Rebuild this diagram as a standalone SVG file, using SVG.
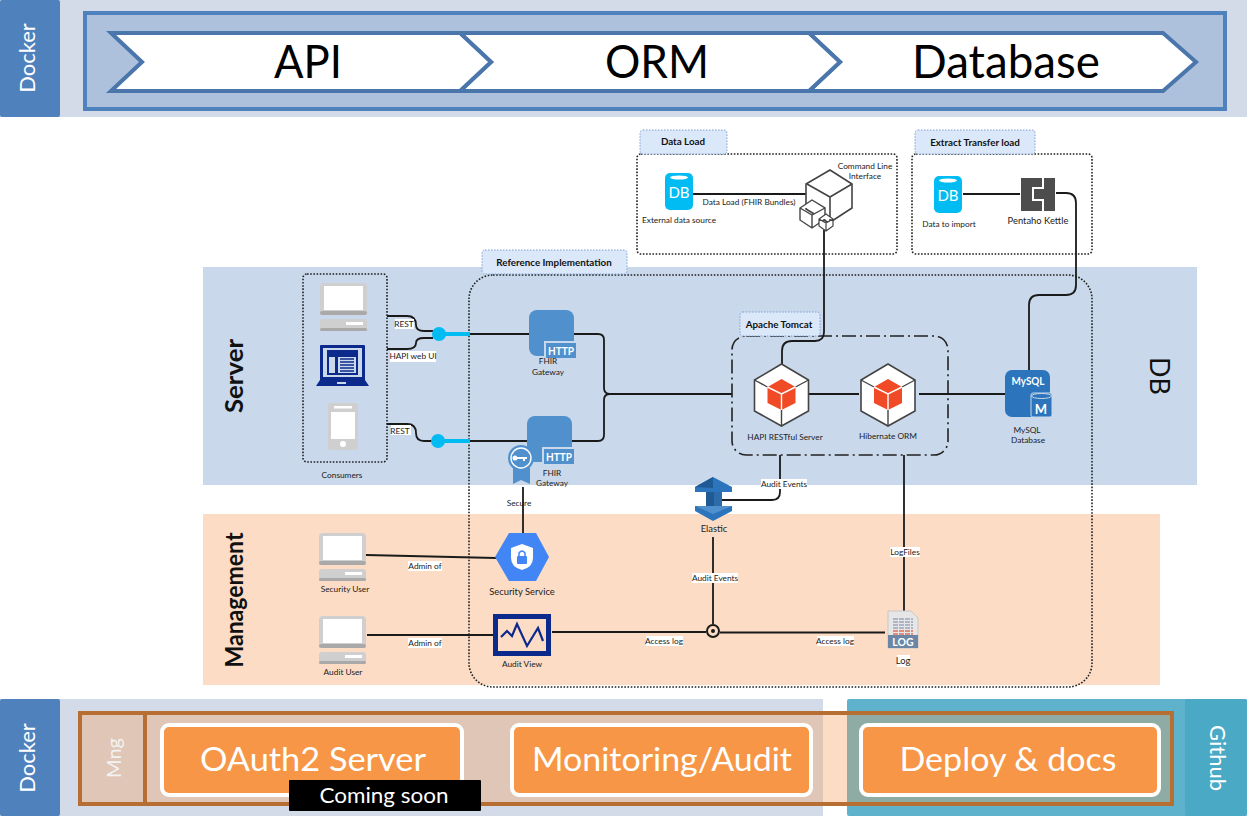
<svg xmlns="http://www.w3.org/2000/svg" width="1247" height="821" viewBox="0 0 1247 821">
<style>
text{font-family:"Lato","Liberation Sans",sans-serif;fill:#222}
.s{font-size:8.3px;text-anchor:middle}
.m{font-size:9.4px;text-anchor:middle}
.tab{font-size:9.8px;font-weight:700;text-anchor:middle;fill:#111}
.big{font-size:46px;text-anchor:middle;fill:#000}
.w{fill:#fff;text-anchor:middle;font-size:33px}
.side{fill:#fff;text-anchor:middle;font-size:22px}
.lane{font-size:25px;font-weight:700;text-anchor:middle;fill:#111}
.dot{fill:none;stroke:#222;stroke-width:1.6;stroke-dasharray:1.6 1.6}
.tabr{fill:#dbe8fa;stroke:#7f9fd0;stroke-width:1;stroke-dasharray:1.5 1.5}
.c{fill:none;stroke:#1a1a1a;stroke-width:1.8}
.lb{fill:#fff}
.chev{fill:#fff;stroke:#4a76ac;stroke-width:4}
.o{fill:#f79646;stroke:#fff;stroke-width:4}
</style>
<defs>
<g id="computer">
<rect x="0" y="0" width="47" height="32" rx="4" fill="#cfcfcf"/>
<rect x="0" y="28" width="47" height="4" rx="2" fill="#a9a9a9"/>
<rect x="4" y="3" width="39" height="24" fill="#fff"/>
<rect x="0" y="36" width="47" height="12" rx="3" fill="#cfcfcf"/>
<rect x="0" y="45" width="47" height="3" rx="1.5" fill="#a9a9a9"/>
<rect x="26" y="39" width="17" height="3" fill="#fff"/>
</g>
<g id="db">
<rect x="0" y="0" width="28" height="37" rx="5" fill="#00bcf2"/>
<ellipse cx="14" cy="4.500" rx="9" ry="2" fill="#fff"/>
<text x="14" y="25" style="font-size:15px;text-anchor:middle;fill:#fff">DB</text>
</g>
<g id="hexcube">
<path d="M0-31 27-15V16L0 31-27 16V-15Z" fill="#fff" stroke="#444" stroke-width="1.6"/>
<path d="M-27-15-14-8M27-15 14-8M0 15V31" stroke="#444" stroke-width="1.4" fill="none"/>
<path d="M0-16 14-8V8L0 15-14 8V-8Z" fill="#f04a26"/>
<path d="M-14-8 0-1 14-8M0-1V15" stroke="#fff" stroke-width="1.400" fill="none"/>
</g>
<g id="http">
<rect x="0" y="0" width="45" height="46" rx="8" fill="#4f90cd"/>
<rect x="15" y="31" width="32" height="17" fill="#c9d8eb"/>
<rect x="17" y="33" width="30" height="15" fill="#4f90cd"/>
<text x="32" y="45" style="font-size:12px;font-weight:700;fill:#fff;text-anchor:middle" textLength="26" lengthAdjust="spacingAndGlyphs">HTTP</text>
</g>
</defs>

<g id="top-band">
<rect width="1247" height="117" fill="#d3dbe9"/>
<rect width="60" height="117" rx="2" fill="#4f81bd"/>
<text class="side" transform="translate(35 58) rotate(-90)">Docker</text>
<rect x="85" y="13" width="1140" height="96" fill="#adc1dd" stroke="#4f81bd" stroke-width="4"/>
</g>
<g id="chevrons">
<path class="chev" d="M809 33H1163L1196 62 1163 91H809L840 62Z"/>
<path class="chev" d="M460 33H809L840 62 809 91H460L491 62Z"/>
<path class="chev" d="M111 33H460L491 62 460 91H111L142 62Z"/>
<text class="big" x="308" y="78" textLength="68" lengthAdjust="spacingAndGlyphs">API</text>
<text class="big" x="657" y="78" textLength="104" lengthAdjust="spacingAndGlyphs">ORM</text>
<text class="big" x="1006" y="78" textLength="188" lengthAdjust="spacingAndGlyphs">Database</text>
</g>

<g id="lanes">
<rect x="203" y="267" width="994" height="218" fill="#c9d8eb"/>
<rect x="203" y="514" width="957" height="171" fill="#fcdcc4"/>
<text class="lane" transform="translate(243 376) rotate(-90)" textLength="74" lengthAdjust="spacingAndGlyphs">Server</text>
<text class="lane" transform="translate(243 600) rotate(-90)" textLength="135" lengthAdjust="spacingAndGlyphs">Management</text>
<text transform="translate(1150 376) rotate(90)" style="font-size:27px;text-anchor:middle;fill:#111">DB</text>
</g>

<g id="containers">
<rect class="dot" x="637" y="154" width="260" height="100" rx="4"/>
<rect class="dot" x="912" y="154" width="180" height="100" rx="4"/>
<rect class="dot" x="469" y="275" width="623" height="412" rx="24"/>
<rect class="dot" x="303" y="274" width="84" height="188" rx="4"/>
<rect x="732" y="336" width="216" height="119" rx="14" fill="none" stroke="#222" stroke-width="1.6" stroke-dasharray="14 4 2 4"/>
</g>

<g id="connectors">
<path class="c" d="M693 194H806"/>
<path class="c" d="M963 194H1020"/>
<path class="c" d="M824 230V332Q824 341 815 341H792Q782 341 782 351V365"/>
<path class="c" d="M1056 193H1066Q1076 193 1076 203V285Q1076 295 1066 295H1039Q1029 295 1029 305V371"/>
<path class="c" d="M387 316H407Q416 316 416 325 416 331 424 331H433"/>
<path class="c" d="M387 349H407Q416 349 416 343 416 338 424 338H433"/>
<path class="c" d="M387 424H407Q416 424 416 433 416 441 424 441H433"/>
<path d="M439 334H470M438 441H470" stroke="#00bcf2" stroke-width="4" fill="none"/>
<circle cx="439" cy="334" r="7" fill="#00bcf2"/>
<circle cx="438" cy="441" r="7" fill="#00bcf2"/>
<path class="c" d="M470 334H530M470 441H528"/>
<path class="c" d="M573 334H598Q604 334 604 340V388Q604 394 610 394M572 441H598Q604 441 604 435V400Q604 394 610 394H732"/>
<path class="c" d="M809 394H859M919 394H1005"/>
<path class="c" d="M780 455V492Q780 500 772 500H722"/>
<path class="c" d="M713 537V624"/>
<path class="c" d="M904 455V611"/>
<path class="c" d="M523 487V534"/>
<path class="c" d="M366 555 496 558"/>
<path class="c" d="M367 635H493"/>
<path class="c" d="M552 632H706M720 632.500H885"/>
<circle cx="713" cy="631" r="6" fill="none" stroke="#1a1a1a" stroke-width="2"/>
<circle cx="713" cy="631" r="2" fill="#1a1a1a"/>
</g>

<g id="tabs">
<g id="tab-data-load"><rect class="tabr" x="640" y="130" width="87" height="24" rx="3"/><text class="tab" x="683" y="145">Data Load</text></g>
<g id="tab-etl"><rect class="tabr" x="915" y="130" width="120" height="24" rx="3"/><text class="tab" x="975" y="146">Extract Transfer load</text></g>
<g id="tab-ref"><rect class="tabr" x="482" y="250" width="145" height="24" rx="3"/><text class="tab" x="554" y="266">Reference Implementation</text></g>
<g id="tab-tomcat"><rect class="tabr" x="740" y="312" width="80" height="24" rx="3"/><text class="tab" x="779" y="328">Apache Tomcat</text></g>
</g>

<g id="node-external-db"><use href="#db" x="665" y="173"/><text class="s" x="679" y="223">External data source</text></g>
<g id="node-cli">
<path d="M830 170 852 184V208L829 223 806 209V184Z" fill="#fff" stroke="#444" stroke-width="1.6"/>
<path d="M807 184 830 197 852 184M830 197V223" fill="none" stroke="#444" stroke-width="1.6"/>
<path d="M812 200 825 208V219L812 228 800 220V208ZM800 208 812 215 825 208M812 215V228" fill="#fff" stroke="#444" stroke-width="1.4"/>
<path d="M826 214 833 219V226L826 231 819 226V219ZM819 219 826 223 833 219M826 223V231" fill="#fff" stroke="#444" stroke-width="1.2"/>
<text class="s" x="865" y="169">Command Line</text><text class="s" x="865" y="179">Interface</text>
</g>
<text class="s" id="label-data-load" x="749" y="205">Data Load (FHIR Bundles)</text>
<g id="node-import-db"><use href="#db" x="934" y="176"/><text class="s" x="949" y="227">Data to import</text></g>
<g id="node-pentaho">
<rect x="1021" y="178" width="34" height="33" fill="#4d4d4d"/>
<path d="M1043 178V188H1033V200H1043V211" fill="none" stroke="#fff" stroke-width="2"/>
<text class="m" x="1038" y="224">Pentaho Kettle</text>
</g>

<g id="node-consumers">
<use href="#computer" x="320" y="283"/>
<g id="laptop">
<path d="M321 345H364Q365 345 365 346V380H320V346Q320 345 321 345Z" fill="#0b2a8c"/>
<rect x="323" y="348" width="39" height="29" fill="#c9d8eb"/>
<rect x="327" y="350" width="31" height="25" fill="#0b2a8c"/>
<rect x="329" y="357" width="6" height="16" fill="#c9d8eb"/>
<rect x="338" y="357" width="18" height="16" fill="#c9d8eb"/>
<path d="M340 359H354M340 362H354M340 365H354M340 368H354M340 371H354" stroke="#0b2a8c" stroke-width="1.500"/>
<path d="M320 380H365L369 386H316Z" fill="#0b2a8c"/>
<rect x="337" y="382" width="9" height="2" fill="#c9d8eb"/>
</g>
<g id="phone">
<rect x="328" y="403" width="30" height="47" rx="3" fill="#cfcfcf"/>
<rect x="331" y="412" width="24" height="27" fill="#fff"/>
<rect x="334" y="406" width="18" height="2.500" fill="#fff"/>
<circle cx="343" cy="444" r="3" fill="#fff"/>
</g>
<text class="s" x="342" y="478">Consumers</text>
</g>

<g id="connector-labels">
<rect class="lb" x="395" y="319" width="19" height="10"/><text class="s" x="404" y="327">REST</text>
<rect class="lb" x="390" y="351" width="46" height="11"/><text class="s" x="413" y="359">HAPI web UI</text>
<rect class="lb" x="391" y="425" width="20" height="10"/><text class="s" x="400" y="434">REST</text>
<text class="s" x="519" y="506">Secure</text>
<rect class="lb" x="761" y="479" width="46" height="10"/><text class="s" x="784" y="487">Audit Events</text>
<rect class="lb" x="692" y="573" width="46" height="10"/><text class="s" x="715" y="581">Audit Events</text>
<rect class="lb" x="890" y="547" width="30" height="10"/><text class="s" x="905" y="555">LogFiles</text>
<rect class="lb" x="408" y="561" width="34" height="10"/><text class="s" x="425" y="569">Admin of</text>
<rect class="lb" x="408" y="638" width="34" height="10"/><text class="s" x="425" y="646">Admin of</text>
<rect class="lb" x="646" y="636" width="37" height="10"/><text class="s" x="664" y="644">Access log</text>
<rect class="lb" x="817" y="636" width="37" height="10"/><text class="s" x="835" y="644">Access log</text>
</g>

<g id="node-gateway-1"><use href="#http" x="529" y="310"/><text class="s" x="548" y="364">FHIR</text><text class="s" x="548" y="375">Gateway</text></g>
<g id="node-gateway-2">
<use href="#http" x="527" y="416"/>
<circle cx="521" cy="458" r="13" fill="#4f90cd"/>
<path d="M513 468V484L521 480 530 484V468Z" fill="#4f90cd"/>
<circle cx="521" cy="458" r="10" fill="none" stroke="#fff" stroke-width="1.400"/>
<path d="M515 458H527M524 458V461" stroke="#fff" stroke-width="2"/><circle cx="515" cy="458" r="2.500" fill="#fff"/>
<text class="s" x="552" y="476">FHIR</text><text class="s" x="552" y="486">Gateway</text>
</g>
<g id="node-hapi"><use href="#hexcube" x="781.500" y="395"/><text class="s" x="785" y="440">HAPI RESTful Server</text></g>
<g id="node-hibernate"><use href="#hexcube" x="888" y="395"/><text class="s" x="888" y="439">Hibernate ORM</text></g>
<g id="node-mysql">
<rect x="1005" y="370" width="45" height="47" rx="7" fill="#2c74bb"/>
<text x="1028" y="385" style="font-size:12px;font-weight:700;fill:#fff;text-anchor:middle" textLength="33" lengthAdjust="spacingAndGlyphs">MySQL</text>
<rect x="1031" y="393" width="21" height="24" rx="2" fill="#2c74bb" stroke="#c9d8eb" stroke-width="1"/>
<ellipse cx="1041.500" cy="396" rx="10" ry="2.500" fill="#2c74bb" stroke="#c9d8eb" stroke-width="1"/>
<text x="1041" y="414" style="font-size:13px;font-weight:700;fill:#fff;text-anchor:middle">M</text>
<text class="s" x="1027" y="433">MySQL</text><text class="s" x="1028" y="443">Database</text>
</g>
<g id="node-elastic">
<rect x="706" y="492" width="8" height="15" fill="#1f5a94"/>
<rect x="714" y="492" width="8" height="15" fill="#2c6cab"/>
<path d="M713 477 695 487V492H732V487Z" fill="#2c74bb"/>
<path d="M713 477 695 487 713 488Z" fill="#1f5a94"/>
<path d="M695 506H732V511L713 521 695 511Z" fill="#2c74bb"/>
<path d="M695 506H732L713 514Z" fill="#4f90cd"/>
<text class="m" x="714" y="532">Elastic</text>
</g>
<g id="node-security-user"><use href="#computer" x="319" y="533"/><text class="s" x="345" y="592">Security User</text></g>
<g id="node-audit-user"><use href="#computer" x="319" y="616"/><text class="s" x="343" y="675">Audit User</text></g>
<g id="node-security">
<path d="M509 533H536L549 557 536 581H509L495 557Z" fill="#4285f4"/>
<path d="M522 544 533 548V558Q533 567 522 570 511 567 511 558V548Z" fill="#fff"/>
<rect x="517" y="556" width="10" height="8" rx="1" fill="#4285f4"/>
<path d="M519 556V553Q522 549 525 553V556" fill="none" stroke="#4285f4" stroke-width="1.500"/>
<text class="m" x="522" y="595">Security Service</text>
</g>
<g id="node-audit-view">
<rect x="495.500" y="616.500" width="53" height="37" fill="#fcdcc4" stroke="#0b2a8c" stroke-width="5"/>
<path d="M501 637 507 631 512 636 517 624 527 646 538 628 543 641" fill="none" stroke="#0b2a8c" stroke-width="2.200"/>
<text class="s" x="522" y="667">Audit View</text>
</g>
<g id="node-log">
<path d="M888 611H911L918 618V648H888Z" fill="#e6e6e6" stroke="#c8c8c8"/>
<path d="M893 619H913M893 622H913M893 625H913M893 628H913" stroke="#9aa7c0" stroke-width="1.500" stroke-dasharray="5 1"/>
<path d="M893 631H913M893 634H913" stroke="#e0705a" stroke-width="1.500" stroke-dasharray="5 1"/>
<rect x="888" y="635" width="30" height="13" fill="#6b87a5"/>
<text x="903" y="646" style="font-size:10.500px;font-weight:700;fill:#fff;text-anchor:middle">LOG</text>
<rect class="lb" x="897" y="655" width="13" height="12"/>
<text class="m" x="903" y="664">Log</text>
</g>

<g id="bottom-band">
<rect x="0" y="699" width="823" height="117" fill="#d3dbe9"/>
<rect x="0" y="699" width="60" height="117" rx="2" fill="#4f81bd"/>
<text class="side" transform="translate(35 758) rotate(-90)">Docker</text>
<rect x="847" y="699" width="400" height="117" rx="2" fill="#5eb2cc"/>
<rect x="1185" y="699" width="62" height="117" rx="2" fill="#4aaac5"/>
<text class="side" transform="translate(1210 758) rotate(90)">Github</text>
<rect x="80" y="713" width="743" height="90" fill="#e0c6b6"/>
<rect x="823" y="713" width="24" height="90" fill="#fcdcc4"/>
<rect x="847" y="713" width="323" height="90" fill="#8eaca3"/>
<rect x="80" y="713" width="1092" height="91" fill="none" stroke="#b66e33" stroke-width="4"/>
<path d="M145 713V804" stroke="#b66e33" stroke-width="4"/>
<text transform="translate(121 758) rotate(-90)" style="font-size:20px;fill:#f2f2f2;text-anchor:middle">Mng</text>
</g>
<g id="node-oauth"><rect class="o" x="162" y="725" width="300" height="70" rx="7"/><text class="w" x="313" y="771" textLength="226" lengthAdjust="spacingAndGlyphs">OAuth2 Server</text></g>
<g id="node-monitoring"><rect class="o" x="512" y="725" width="299" height="70" rx="7"/><text class="w" x="662" y="771" textLength="260" lengthAdjust="spacingAndGlyphs">Monitoring/Audit</text></g>
<g id="node-deploy"><rect class="o" x="861" y="725" width="298" height="70" rx="7"/><text class="w" x="1008" y="771" textLength="217" lengthAdjust="spacingAndGlyphs">Deploy &amp; docs</text></g>
<g id="coming-soon"><rect x="289" y="780" width="192" height="31" rx="1" fill="#000"/><text x="384" y="803" style="fill:#fff;font-size:22px;text-anchor:middle" textLength="129" lengthAdjust="spacingAndGlyphs">Coming soon</text></g>
</svg>
